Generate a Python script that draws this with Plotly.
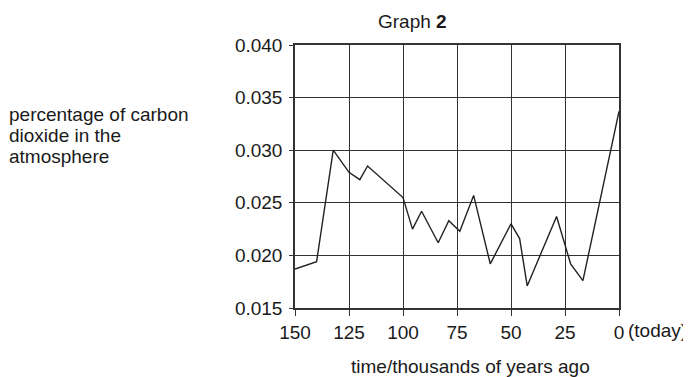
import plotly.graph_objects as go

time_kya = [150, 140, 132.3, 125, 120, 116.4, 100, 95.6, 91.4, 83.7, 78.8, 73.7,
            67.3, 59.6, 50, 46, 42.5, 28.9, 22.4, 16.7, 0]
co2_pct = [0.0187, 0.0194, 0.0300, 0.0279, 0.0272, 0.0285, 0.0255, 0.0225, 0.0242, 0.0212,
           0.0233, 0.0223, 0.0257, 0.0192, 0.0230, 0.0216, 0.0171, 0.0237, 0.0192, 0.0176, 0.0337]

x_ticks = [150, 125, 100, 75, 50, 25, 0]
x_tick_labels = ["150", "125", "100", "75", "50", "25", "0"]
y_ticks = [0.015, 0.020, 0.025, 0.030, 0.035, 0.040]
y_tick_labels = ["0.015", "0.020", "0.025", "0.030", "0.035", "0.040"]
y_label_lines = ["percentage of carbon", "dioxide in the", "atmosphere"]

FONT = "Liberation Sans, Arial, sans-serif"
FS = 19
TXT = "#1a1a1a"

# figure is drawn with an 8px page margin; plot area chosen accordingly
W, H = 691, 377
ML, MT, MR, MB = 287, 37, 80, 77
PW, PH = W - ML - MR, H - MT - MB

def px(xf):
    return (xf - ML) / PW

def py(yf):
    return 1 - (yf - MT) / PH

fig = go.Figure()
fig.add_trace(go.Scatter(x=time_kya, y=co2_pct, mode="lines",
                         line=dict(color="#222222", width=1.4), showlegend=False,
                         hoverinfo="skip"))

axis_common = dict(showgrid=True, gridcolor="#333333", gridwidth=1,
                   showline=True, linecolor="#333333", linewidth=1.5, mirror=True,
                   ticks="outside", tickcolor="#333333", zeroline=False,
                   tickfont=dict(size=FS, family=FONT, color=TXT))

annotations = [
    dict(text="Graph <b>2</b>", x=px(404), y=1, xref="paper", yref="paper",
         xanchor="center", yanchor="middle", yshift=24, showarrow=False),
    dict(text="(today)", x=0, y=0, xref="x", yref="paper", xanchor="left",
         yanchor="middle", xshift=7, yshift=-22, showarrow=False),
    dict(text="time/thousands of years ago", x=px(462), y=0, xref="paper", yref="paper",
         xanchor="center", yanchor="middle", yshift=-58, showarrow=False),
]
for i, line in enumerate(y_label_lines):
    annotations.append(dict(text=line, x=px(-1), y=py(106 + 21 * i), xref="paper",
                            yref="paper", xanchor="left", yanchor="middle",
                            showarrow=False))

fig.update_layout(
    width=W, height=H,
    margin=dict(l=ML, r=MR, t=MT, b=MB),
    paper_bgcolor="white", plot_bgcolor="white",
    font=dict(family=FONT, size=FS, color=TXT),
    xaxis=dict(range=[150, 0], tickvals=x_ticks, ticktext=x_tick_labels,
               ticklen=6, **axis_common),
    yaxis=dict(range=[0.015, 0.040], tickvals=y_ticks, ticktext=y_tick_labels,
               ticklen=4, ticklabelstandoff=3, **axis_common),
    annotations=annotations,
)

fig.write_html("out.html")
